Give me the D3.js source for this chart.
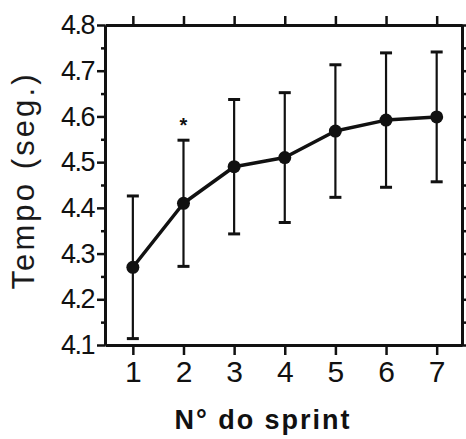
<!DOCTYPE html>
<html>
<head>
<meta charset="utf-8">
<script src="https://cdn.jsdelivr.net/npm/d3@7"></script>
<style>
  body { margin: 0; background: #fff; }
  svg { display: block; }
</style>
</head>
<body>
<div id="viz"></div>
<script>
var sprints = [1, 2, 3, 4, 5, 6, 7]
var means = [4.27, 4.41, 4.49, 4.51, 4.568, 4.592, 4.599]
var sds = [0.156, 0.138, 0.147, 0.142, 0.145, 0.147, 0.142]
var yTicks = [4.1, 4.2, 4.3, 4.4, 4.5, 4.6, 4.7, 4.8]
var yMinor = [4.15, 4.25, 4.35, 4.45, 4.55, 4.65, 4.75]
var marked = [2] // sprint with significant difference (*)

var width = 466, height = 439
var font = "Liberation Sans, Arial, sans-serif"

var svg = d3.select("#viz")
  .append("svg")
  .attr("width", width)
  .attr("height", height)

var x = d3.scaleLinear().domain([0.45, 7.5]).range([105, 462])
var y = d3.scaleLinear().domain([4.1, 4.8]).range([345, 25])

// bottom axis
var bottom = svg.append("g")
  .attr("transform", "translate(0," + y(4.1) + ")")
  .call(d3.axisBottom(x).tickValues(sprints).tickSize(10).tickSizeOuter(0).tickPadding(6).tickFormat(d3.format("d")))
bottom.selectAll("text")
  .style("font-family", font).style("font-size", "30px").attr("fill", "#111")

// top axis
svg.append("g")
  .attr("transform", "translate(0," + y(4.8) + ")")
  .call(d3.axisTop(x).tickValues(sprints).tickSize(9).tickSizeOuter(0).tickFormat(""))

// left axis
var left = svg.append("g")
  .attr("transform", "translate(" + x(0.45) + ",0)")
  .call(d3.axisLeft(y).tickValues(yTicks).tickSize(8).tickSizeOuter(0).tickPadding(3).tickFormat(d3.format(".1f")))
left.selectAll("text")
  .style("font-family", font).style("font-size", "27px")
  .style("letter-spacing", "-1.5px").attr("fill", "#111")
svg.append("g")
  .attr("transform", "translate(" + x(0.45) + ",0)")
  .call(d3.axisLeft(y).tickValues(yMinor).tickSize(4).tickSizeOuter(0).tickFormat(""))

// right axis
svg.append("g")
  .attr("transform", "translate(" + x(7.5) + ",0)")
  .call(d3.axisRight(y).tickValues(yTicks.concat(yMinor)).tickSize(5).tickSizeOuter(0).tickFormat(""))

svg.selectAll(".domain").attr("stroke", "#111").attr("stroke-width", 3)
svg.selectAll(".tick line").attr("stroke", "#111").attr("stroke-width", 2.5)

// error bars
var data = sprints.map((s, i) => ({ s: s, m: means[i], sd: sds[i] }))
var capW = 6

var bars = svg.append("g").attr("stroke", "#111").attr("stroke-width", 2.2)
bars.selectAll("line.v").data(data).enter().append("line")
  .attr("x1", d => x(d.s)).attr("x2", d => x(d.s))
  .attr("y1", d => y(d.m - d.sd)).attr("y2", d => y(d.m + d.sd))
bars.selectAll("line.top").data(data).enter().append("line")
  .attr("x1", d => x(d.s) - capW).attr("x2", d => x(d.s) + capW)
  .attr("y1", d => y(d.m + d.sd)).attr("y2", d => y(d.m + d.sd))
  .attr("stroke-width", 3)
bars.selectAll("line.bot").data(data).enter().append("line")
  .attr("x1", d => x(d.s) - capW).attr("x2", d => x(d.s) + capW)
  .attr("y1", d => y(d.m - d.sd)).attr("y2", d => y(d.m - d.sd))
  .attr("stroke-width", 3)

// mean line
var line = d3.line().x(d => x(d.s)).y(d => y(d.m))
svg.append("path")
  .datum(data)
  .attr("d", line)
  .attr("fill", "none")
  .attr("stroke", "#111")
  .attr("stroke-width", 3.5)
  .attr("stroke-linejoin", "round")

svg.selectAll("circle.pt").data(data).enter().append("circle")
  .attr("cx", d => x(d.s)).attr("cy", d => y(d.m))
  .attr("r", 6.5)
  .attr("fill", "#111")

// significance mark
svg.selectAll("text.star").data(data.filter(d => marked.includes(d.s))).enter().append("text")
  .attr("x", d => x(d.s))
  .attr("y", d => y(d.m + d.sd) - 8)
  .attr("text-anchor", "middle")
  .style("font-family", font).style("font-size", "20px").style("font-weight", "bold")
  .attr("fill", "#111")
  .text("*")

// axis titles
svg.append("text")
  .attr("transform", "translate(34,182) rotate(-90)")
  .attr("text-anchor", "middle")
  .attr("textLength", 215).attr("lengthAdjust", "spacing")
  .style("font-family", font).style("font-size", "31px")
  .attr("fill", "#1a1a1a")
  .text("Tempo (seg.)")

svg.append("text")
  .attr("x", 262).attr("y", 429)
  .attr("text-anchor", "middle")
  .attr("textLength", 175).attr("lengthAdjust", "spacing")
  .style("font-family", font).style("font-size", "27px").style("font-weight", "bold")
  .attr("fill", "#111")
  .text("N° do sprint")
</script>
</body>
</html>
